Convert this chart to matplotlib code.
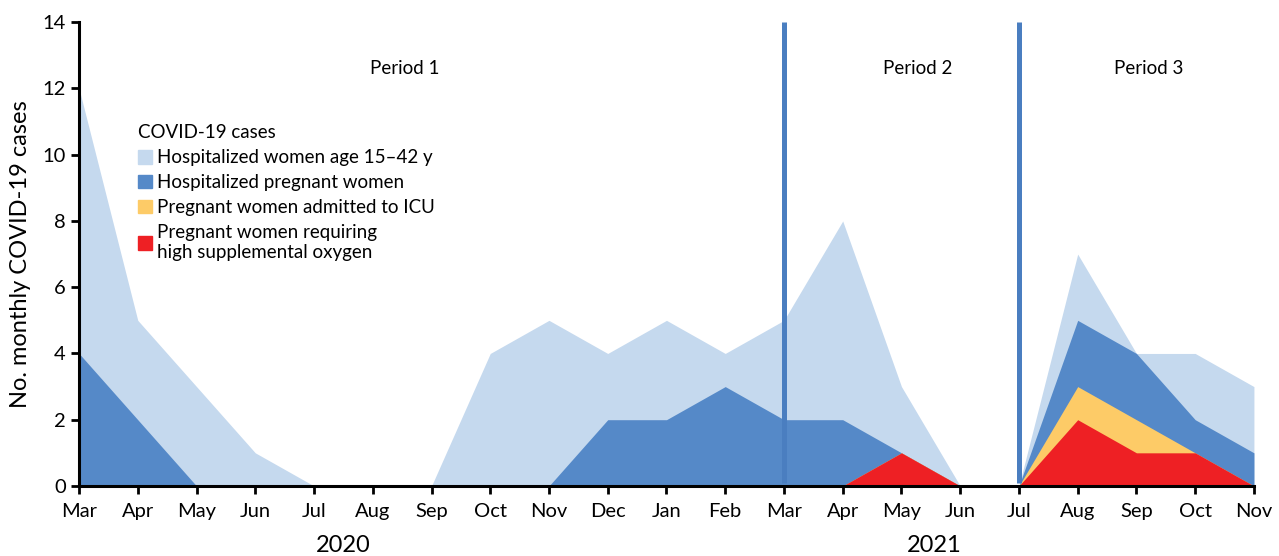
import matplotlib
matplotlib.use("Agg")
import matplotlib.pyplot as plt
from matplotlib.patches import Patch

plt.rcParams['font.family'] = ['Lato', 'DejaVu Sans']

months = ["Mar", "Apr", "May", "Jun", "Jul", "Aug", "Sep", "Oct", "Nov", "Dec", "Jan",
          "Feb", "Mar", "Apr", "May", "Jun", "Jul", "Aug", "Sep", "Oct", "Nov"]
hosp_women = [12, 5, 3, 1, 0, 0, 0, 4, 5, 4, 5, 4, 5, 8, 3, 0, 0, 7, 4, 4, 3]
hosp_pregnant = [4, 2, 0, 0, 0, 0, 0, 0, 0, 2, 2, 3, 2, 2, 1, 0, 0, 5, 4, 2, 1]
icu_pregnant = [0, 0, 0, 0, 0, 0, 0, 0, 0, 0, 0, 0, 0, 0, 1, 0, 0, 3, 2, 1, 0]
oxygen_pregnant = [0, 0, 0, 0, 0, 0, 0, 0, 0, 0, 0, 0, 0, 0, 1, 0, 0, 2, 1, 1, 0]
period_bounds = [12, 16]
period_labels = ["Period 1", "Period 2", "Period 3"]
period_label_x = [5.55, 14.28, 18.2]
years = ["2020", "2021"]
year_x = [4.5, 14.55]

c_light = "#C5D9EE"
c_dark = "#5589C8"
c_yellow = "#FDCB67"
c_red = "#EE2024"
c_line = "#4A7EC0"

fig = plt.figure(figsize=(12.79, 5.56), dpi=100)
ax = fig.add_axes([0.0618, 0.126, 0.9186, 0.834])
x = list(range(len(months)))

ax.fill_between(x, 0, hosp_women, color=c_light, linewidth=0)
ax.fill_between(x, 0, hosp_pregnant, color=c_dark, linewidth=0)
ax.fill_between(x, 0, icu_pregnant, color=c_yellow, linewidth=0)
ax.fill_between(x, 0, oxygen_pregnant, color=c_red, linewidth=0)

ax.vlines(period_bounds, 0.1, 14, colors=c_line, linewidth=3.6, zorder=3)

ax.set_xlim(0, 20)
ax.set_ylim(0, 14)
ax.set_xticks(x)
ax.set_xticklabels(months)
ax.set_yticks(range(0, 15, 2))
for s in ["top", "right"]:
    ax.spines[s].set_visible(False)
for s in ["left", "bottom"]:
    ax.spines[s].set_linewidth(2.2)
    ax.spines[s].set_zorder(4)
ax.tick_params(axis="both", which="major", labelsize=14.5, width=2, length=6, direction="out")
ax.tick_params(axis="x", pad=6)
ax.set_ylabel("No. monthly COVID-19 cases", fontsize=17, labelpad=8)

for lab, px in zip(period_labels, period_label_x):
    ax.text(px, 12.6, lab, fontsize=13.5, ha="center", va="center")
for yr, px in zip(years, year_x):
    ax.text(px, -1.8, yr, fontsize=17, ha="center", va="center")

handles = [Patch(color=c_light), Patch(color=c_dark), Patch(color=c_yellow), Patch(color=c_red)]
labels = ["Hospitalized women age 15\u201342 y", "Hospitalized pregnant women",
          "Pregnant women admitted to ICU", "Pregnant women requiring\nhigh supplemental oxygen"]
leg = ax.legend(handles, labels, title="COVID-19 cases", loc="upper left",
                bbox_to_anchor=(0.042, 0.80), frameon=False, fontsize=13.5,
                title_fontsize=13.5, handlelength=0.75, handleheight=0.75,
                handletextpad=0.3, labelspacing=0.42, borderpad=0, alignment="left")

fig.savefig("out.png", dpi=100)
